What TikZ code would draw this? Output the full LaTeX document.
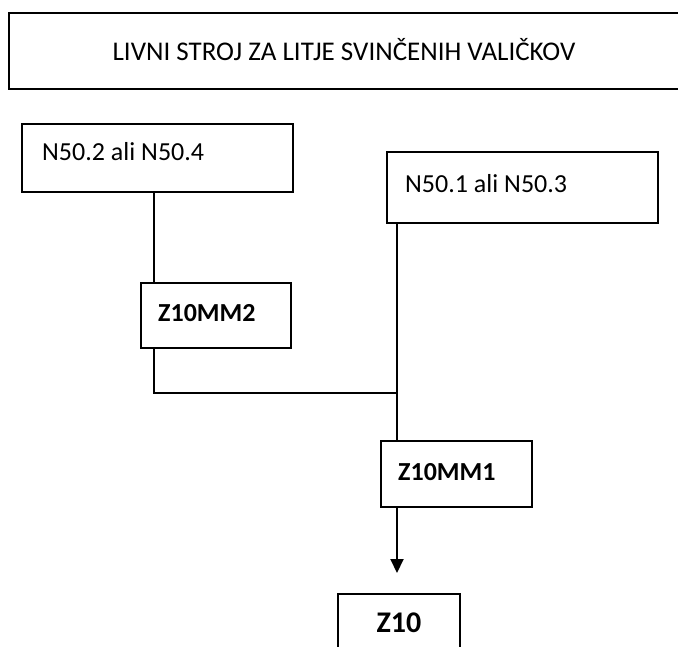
\documentclass[tikz,border=0pt]{standalone}
\usepackage{fontspec}
\setmainfont{Carlito}
\usetikzlibrary{arrows.meta}
\begin{document}
\begin{tikzpicture}[x=1pt,y=-1pt,
  box/.style={draw=black, line width=2pt, inner sep=0pt, outer sep=0pt, fill=none},
  txt/.style={inner sep=0pt, font=\fontsize{26}{30}\selectfont},
  btxt/.style={inner sep=0pt, font=\fontsize{26}{30}\selectfont\bfseries},
  conn/.style={draw=black, line width=2pt}
]
\useasboundingbox (0,0) rectangle (678,646);
\fill[white] (0,0) rectangle (678,646);
% title
\node[box, minimum width=680pt, minimum height=76pt, anchor=north west] (title) at (9,13) {};
\node[txt, font=\fontsize{27}{31}\selectfont] (titletext) at (344,50) {LIVNI STROJ ZA LITJE SVINČENIH VALIČKOV};
% boxes
\node[box, minimum width=271pt, minimum height=68pt, anchor=north west] (n52) at (22,124) {};
\node[txt, anchor=west] (n52t) at (42,152) {N50.2 ali N50.4};
\node[box, minimum width=271pt, minimum height=71pt, anchor=north west] (n51) at (387,152) {};
\node[txt, anchor=west] (n51t) at (405,184) {N50.1 ali N50.3};
\node[box, minimum width=150pt, minimum height=65pt, anchor=north west] (mm2) at (141,283) {};
\node[btxt, anchor=west] (mm2t) at (158,313) {Z10MM2};
\node[box, minimum width=151pt, minimum height=66pt, anchor=north west] (mm1) at (381,441) {};
\node[btxt, anchor=west] (mm1t) at (398,472) {Z10MM1};
\node[box, minimum width=122pt, minimum height=80pt, anchor=north west] (z10) at (338,594) {};
\node[btxt, font=\fontsize{30}{34}\selectfont\bfseries] (z10t) at (399,623) {Z10};
% connectors
\coordinate (a) at (154,0);
\coordinate (j) at (397,393);
\draw[conn] (a |- n52.south) -- (a |- mm2.north);
\draw[conn] (a |- mm2.south) -- (a |- j) -- (j);
\draw[conn] (j |- n51.south) -- (j) -- (j |- mm1.north);
\draw[conn, -{Triangle[width=13pt,length=14pt]}, shorten >=21pt] (j |- mm1.south) -- (j |- z10.north);
\end{tikzpicture}
\end{document}
